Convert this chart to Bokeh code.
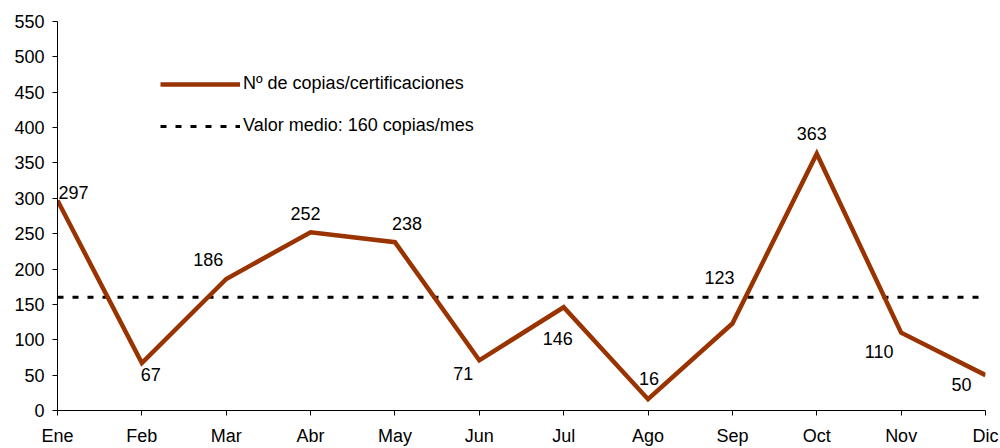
from bokeh.plotting import figure
from bokeh.models import (ColumnDataSource, Range1d, FixedTicker, Legend, LegendItem)
from bokeh.core.properties import value
from bokeh.embed import file_html
from bokeh.resources import INLINE

# ---- data ----
months = ["Ene", "Feb", "Mar", "Abr", "May", "Jun", "Jul", "Ago", "Sep", "Oct", "Nov", "Dic"]
copias = [297, 67, 186, 252, 238, 71, 146, 16, 123, 363, 110, 50]
media = 160
series_label = "Nº de copias/certificaciones"
media_label = "Valor medio: 160 copias/mes"
y_ticks = list(range(0, 551, 50))

# label offsets (screen px) for value labels
label_dx = [16, 9, -18, -5, 12, -16, -6, 1, -13, -5, -22, -24]
label_dy = [-8, 11, -19, -19, -19, 13, 31, -21, -46, -20, 19, 9]

FONT = "Liberation Sans"
BROWN = "#993300"
FS = "18px"

xs = list(range(len(months)))
src = ColumnDataSource(dict(x=xs, y=copias, txt=[str(v) for v in copias],
                            dx=label_dx, dy=label_dy))

p = figure(width=1000, height=448, output_backend="svg", toolbar_location=None,
           x_range=Range1d(0, len(months) - 1), y_range=Range1d(0, 550),
           min_border_left=57, min_border_right=15, min_border_top=21, min_border_bottom=35)
p.outline_line_color = None
p.xgrid.visible = False
p.ygrid.visible = False
p.background_fill_color = "white"
p.border_fill_color = "white"

mean_r = p.line([xs[0], xs[-1]], [media, media], line_color="black", line_width=3,
                line_dash="6 9")
main_r = p.line("x", "y", source=src, line_color=BROWN, line_width=4.5,
                line_join="miter")

p.text("x", "y", text="txt", source=src, x_offset="dx", y_offset="dy",
       text_align="center", text_baseline="middle", text_font=value(FONT),
       text_font_size=FS, text_color="black")

# axes
for ax in (p.xaxis[0], p.yaxis[0]):
    ax.axis_line_color = "black"
    ax.axis_line_width = 1
    ax.major_tick_line_color = "black"
    ax.major_tick_out = 5
    ax.major_tick_in = 0
    ax.minor_tick_line_color = None
    ax.major_label_text_font = FONT
    ax.major_label_text_font_size = FS
    ax.major_label_text_color = "black"

p.yaxis[0].ticker = FixedTicker(ticks=y_ticks)
p.yaxis[0].major_label_standoff = 8
p.xaxis[0].ticker = FixedTicker(ticks=xs)
p.xaxis[0].major_label_overrides = {i: m for i, m in enumerate(months)}
p.xaxis[0].major_label_standoff = 10

legend = Legend(items=[LegendItem(label=series_label, renderers=[main_r]),
                       LegendItem(label=media_label, renderers=[mean_r])],
                location=(103, 274), orientation="vertical",
                glyph_width=80, glyph_height=20, label_standoff=3, spacing=21,
                padding=0, margin=0, border_line_color=None,
                background_fill_alpha=0, label_text_font=FONT,
                label_text_font_size=FS, label_text_color="black")
p.add_layout(legend)

open("out.html", "w").write(file_html(p, INLINE))
